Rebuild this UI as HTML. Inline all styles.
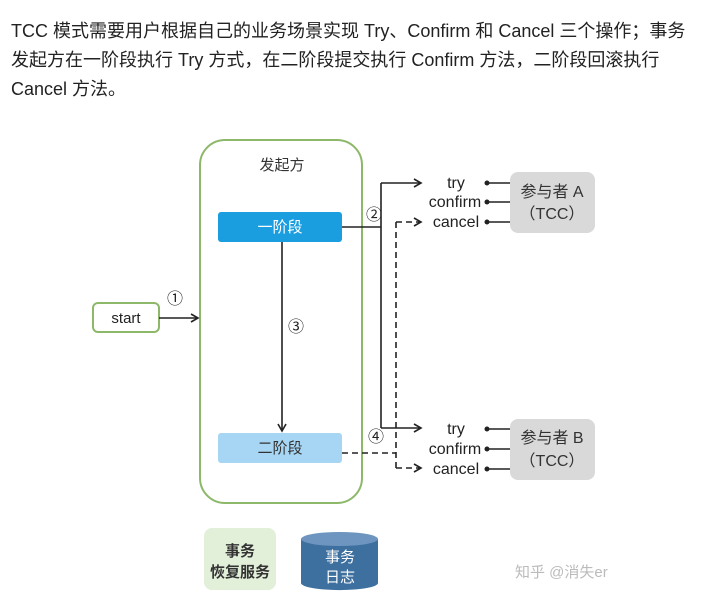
<!DOCTYPE html>
<html><head><meta charset="utf-8"><style>
body{margin:0;width:701px;height:599px;background:#fff;overflow:hidden;font-family:"Liberation Sans","Noto Sans CJK SC",sans-serif}
.p{position:absolute;left:11px;top:17px;font-size:18px;line-height:29px;color:#222;width:695px;white-space:nowrap}
svg{position:absolute;left:0;top:0}
</style></head><body>
<div class="p">TCC 模式需要用户根据自己的业务场景实现 Try、Confirm 和 Cancel 三个操作；事务<br>发起方在一阶段执行 Try 方式，在二阶段提交执行 Confirm 方法，二阶段回滚执行<br>Cancel 方法。</div>
<svg width="701" height="599" font-family="Liberation Sans,Noto Sans CJK SC,sans-serif">
<defs><marker id="a" markerWidth="10" markerHeight="10" refX="8" refY="5" orient="auto" markerUnits="userSpaceOnUse"><path d="M1,1 L8,5 L1,9" fill="none" stroke="#222" stroke-width="1.6"/></marker></defs>
<rect x="200" y="140" width="162" height="363" rx="25" fill="#fff" stroke="#8db86a" stroke-width="2"/>
<text x="282" y="170" font-size="15" text-anchor="middle" fill="#333">发起方</text>
<rect x="218" y="212" width="124" height="30" rx="3" fill="#1a9ee0"/>
<text x="280" y="232" font-size="15" text-anchor="middle" fill="#fff">一阶段</text>
<rect x="218" y="433" width="124" height="30" rx="3" fill="#a6d6f4"/>
<text x="280" y="453" font-size="15" text-anchor="middle" fill="#333">二阶段</text>
<rect x="93" y="303" width="66" height="29" rx="5" fill="#fff" stroke="#8db86a" stroke-width="2"/>
<text x="126" y="323" font-size="15" text-anchor="middle" fill="#222">start</text>
<g stroke="#222" stroke-width="1.6" fill="none">
<path d="M159,318 H198" marker-end="url(#a)"/>
<path d="M282,242 V431" marker-end="url(#a)"/>
<path d="M342,227 H381 M381,183 V428"/>
<path d="M381,183 H421" marker-end="url(#a)"/>
<path d="M381,428 H421" marker-end="url(#a)"/>
<g stroke-dasharray="6,4"><path d="M342,453 H396 M396,222 V468"/>
<path d="M396,222 H421" marker-end="url(#a)"/>
<path d="M396,468 H421" marker-end="url(#a)"/></g>
<path d="M487,183 H510 M487,202 H510 M487,222 H510 M487,429 H510 M487,449 H510 M487,469 H510"/>
</g>
<g fill="#222"><circle cx="487" cy="183" r="2.5"/><circle cx="487" cy="202" r="2.5"/><circle cx="487" cy="222" r="2.5"/><circle cx="487" cy="429" r="2.5"/><circle cx="487" cy="449" r="2.5"/><circle cx="487" cy="469" r="2.5"/></g>
<g font-size="16" fill="#222" text-anchor="middle">
<text x="456" y="188">try</text><text x="455" y="207">confirm</text><text x="456" y="227">cancel</text>
<text x="456" y="434">try</text><text x="455" y="454">confirm</text><text x="456" y="474">cancel</text>
</g>
<g font-size="16" fill="#222" text-anchor="middle">
<text x="175" y="304">①</text><text x="374" y="220">②</text><text x="296" y="332">③</text><text x="376" y="442">④</text>
</g>
<rect x="510" y="172" width="85" height="61" rx="8" fill="#d9d9d9"/>
<text x="552" y="197" font-size="16" text-anchor="middle" fill="#333">参与者 A</text>
<text x="552" y="219" font-size="16" text-anchor="middle" fill="#333">（TCC）</text>
<rect x="510" y="419" width="85" height="61" rx="8" fill="#d9d9d9"/>
<text x="552" y="443" font-size="16" text-anchor="middle" fill="#333">参与者 B</text>
<text x="552" y="466" font-size="16" text-anchor="middle" fill="#333">（TCC）</text>
<rect x="204" y="528" width="72" height="62" rx="8" fill="#e2efd9"/>
<text x="240" y="556" font-size="15" font-weight="bold" text-anchor="middle" fill="#333">事务</text>
<text x="240" y="577" font-size="15" font-weight="bold" text-anchor="middle" fill="#333">恢复服务</text>
<path d="M301,539 V583 A38,7 0 0 0 378,583 V539 Z" fill="#3d6f9f"/>
<ellipse cx="339.5" cy="539" rx="38.5" ry="7" fill="#6d95bf"/>
<text x="340" y="562" font-size="15" text-anchor="middle" fill="#fff">事务</text>
<text x="340" y="582" font-size="15" text-anchor="middle" fill="#fff">日志</text>
<text x="515" y="577" font-size="15" fill="#bbb">知乎 @消失er</text>
</svg>
</body></html>
